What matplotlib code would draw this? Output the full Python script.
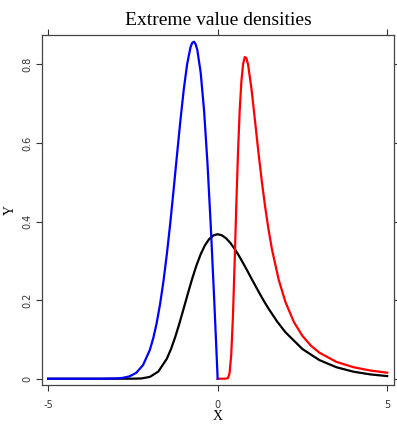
import matplotlib
matplotlib.use("Agg")
import matplotlib.pyplot as plt

# black curve
x_black = [-5.0, -3.0, -2.5, -2.25, -2.0, -1.75, -1.5, -1.375, -1.25, -1.125,
           -1.0, -0.875, -0.75, -0.625, -0.5, -0.375, -0.25, -0.125, 0.0,
           0.125, 0.25, 0.375, 0.5, 0.625, 0.75, 0.875, 1.0, 1.125, 1.25,
           1.375, 1.5, 1.75, 2.0, 2.5, 3.0, 3.5, 4.0, 4.5, 5.0]
y_black = [0.0, 0.0, 0.0001, 0.0007, 0.0046, 0.0182, 0.0507, 0.0757, 0.1064,
           0.1416, 0.1794, 0.2178, 0.2549, 0.2885, 0.3170, 0.3396, 0.3556,
           0.3649, 0.3679, 0.3651, 0.3574, 0.3457, 0.3307, 0.3134, 0.2945,
           0.2748, 0.2546, 0.2347, 0.2151, 0.1963, 0.1785, 0.1461, 0.1182,
           0.0756, 0.0474, 0.0293, 0.0180, 0.0110, 0.0067]

# blue curve
x_blue = [-5.0, -3.5, -3.0, -2.8, -2.6, -2.4, -2.2, -2.0, -1.9, -1.8, -1.7, -1.6,
          -1.5, -1.4, -1.3, -1.2, -1.1, -1.0, -0.9, -0.8, -0.75, -0.7, -0.65,
          -0.6, -0.5, -0.4, -0.3, -0.2, -0.1, 0.0]
y_blue = [0.0, 0.0, 0.0007, 0.0022, 0.0060, 0.0151, 0.0348, 0.0733, 0.1028,
          0.141, 0.189, 0.247, 0.316, 0.394, 0.480, 0.569, 0.656, 0.736, 0.801,
          0.844, 0.855, 0.858, 0.852, 0.837, 0.779, 0.682, 0.548, 0.384, 0.198,
          0.0]

# red curve
x_red = [0.0, 0.2, 0.3, 0.35, 0.4, 0.45, 0.5, 0.55, 0.6, 0.65, 0.7, 0.75, 0.8,
         0.85, 0.9, 1.0, 1.1, 1.2, 1.3, 1.4, 1.5, 1.6, 1.8, 2.0, 2.25, 2.5,
         2.75, 3.0, 3.5, 4.0, 4.5, 5.0]
y_red = [0.0, 0.0, 0.0011, 0.0133, 0.0603, 0.157, 0.293, 0.441, 0.576, 0.683,
         0.757, 0.801, 0.819, 0.816, 0.798, 0.736, 0.658, 0.578, 0.504, 0.438,
         0.380, 0.330, 0.252, 0.195, 0.144, 0.109, 0.0842, 0.0663, 0.0430,
         0.0294, 0.0209, 0.0154]

x_ticks = [-5, 0, 5]
x_ticklabels = ["-5", "0", "5"]
y_ticks = [0, 0.2, 0.4, 0.6, 0.8]
y_ticklabels = ["0", "0.2", "0.4", "0.6", "0.8"]

fig = plt.figure(figsize=(3.97, 4.25), dpi=100)
ax = fig.add_axes([0.1058, 0.0941, 0.8866, 0.8235])

ax.plot(x_black, y_black, color="black", lw=1.6)
ax.plot(x_red, y_red, color="red", lw=1.6)
ax.plot(x_blue, y_blue, color="blue", lw=1.6)

ax.set_xlim(-5.18, 5.2)
ax.set_ylim(-0.016, 0.875)

ax.set_xticks(x_ticks)
ax.set_xticklabels(x_ticklabels)
ax.set_yticks(y_ticks)
ax.set_yticklabels(y_ticklabels, rotation=90, va="center")
ax.tick_params(axis="both", direction="out", length=4, width=0.8,
               labelsize=7, colors="#333333", top=True, right=True)
ax.tick_params(axis="x", pad=7)
ax.tick_params(axis="y", pad=3)
for s in ax.spines.values():
    s.set_color("#444444")
    s.set_linewidth(0.9)

ax.set_xlabel("X", fontsize=10, family="Liberation Serif", labelpad=0)
ax.set_ylabel("Y", fontsize=10, family="Liberation Serif", labelpad=4)
ax.set_title("Extreme value densities", fontsize=14,
             family="Liberation Serif", pad=7)

plt.savefig("out.png", dpi=100)
